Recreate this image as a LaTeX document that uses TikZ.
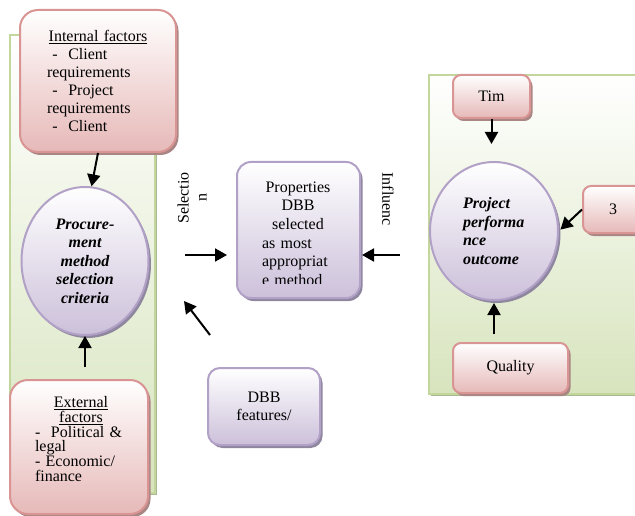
\documentclass[tikz,border=0pt]{standalone}
\usepackage{fontspec}
\setmainfont{Liberation Serif}
\usetikzlibrary{shapes.geometric,arrows.meta,shadows}
\definecolor{pinkb}{HTML}{D99594}
\definecolor{pinkf}{HTML}{E6B9B8}
\definecolor{pinks}{HTML}{A98584}
\definecolor{purpb}{HTML}{B2A1C7}
\definecolor{purpf}{HTML}{CCC0DA}
\definecolor{purps}{HTML}{8F86A0}
\definecolor{greenb}{HTML}{C3D69B}
\definecolor{greenf}{HTML}{D7E4BD}
\definecolor{greens}{HTML}{A9B893}
\begin{document}
\begin{tikzpicture}[x=1pt,y=-1pt,font=\fontsize{16}{18}\selectfont,
        link/.style={line width=2pt,-{Triangle[length=12pt,width=13pt]}},
        panel/.style={draw=greenb,line width=1.5pt,top color=white,bottom color=greenf,drop shadow={shadow xshift=2pt,shadow yshift=-2pt,fill=greens,opacity=1}},
        factbox/.style={rectangle,rounded corners=#1,draw=pinkb,line width=2pt,top color=white,bottom color=pinkf,inner sep=0pt,drop shadow={shadow xshift=2.5pt,shadow yshift=-3pt,fill=pinks,opacity=1}},
        factbox/.default=9pt,
        propbox/.style={rectangle,rounded corners=#1,draw=purpb,line width=2pt,top color=white,bottom color=purpf,inner sep=0pt,drop shadow={shadow xshift=2.5pt,shadow yshift=-3pt,fill=purps,opacity=1}},
        propbox/.default=12pt,
        critball/.style={ellipse,draw=purpb,line width=2pt,top color=white,bottom color=purpf,inner sep=0pt,drop shadow={shadow xshift=2.5pt,shadow yshift=-3pt,fill=purps,opacity=1},font=\fontsize{16}{18.5}\selectfont\bfseries\itshape}]
        \useasboundingbox (0,0) rectangle (635,516);
        % green panels
        \draw[panel] (10,35) rectangle (155,493);
        \draw[panel] (429,75) rectangle (660,394);
        % left side
        \node[factbox=18pt,minimum width=156pt,minimum height=142pt,text width=102pt,align=left] (intf) at (98,81) {\makebox[\hsize]{\underline{Internal factors}}\\\ -\ \ Client\\requirements\\\ -\ \ Project\\requirements\\\ -\ \ Client};
        \node[critball,minimum width=127pt,minimum height=148pt,align=center] (crit) at (85,261) {Procure-\\ment\\method\\selection\\criteria};
        \node[factbox=18pt,minimum width=138pt,minimum height=134pt] (extf) at (79,447) {};
        \node[text width=92pt,align=left,font=\fontsize{16}{14.8}\selectfont] (extt) at (81,439) {\makebox[\hsize]{\underline{External}}\\\makebox[\hsize]{\underline{factors}}\\-\ \ Political \&\\legal\\- Economic/\\finance};
        % middle
        \node[propbox=14pt,minimum width=123pt,minimum height=136pt] (dbbsel) at (298.5,230) {};
        \begin{scope}
            \clip ([yshift=16pt]dbbsel.south west) rectangle (dbbsel.north east);
            \node[text width=72pt,align=left,font=\fontsize{16}{18.6}\selectfont] (dbbt) at (298,233.5) {\makebox[\hsize]{Properties}\\\makebox[\hsize]{DBB}\\\makebox[\hsize]{selected}\\as most\\appropriat\\e method};
        \end{scope}
        \node[propbox=12pt,minimum width=112pt,minimum height=77pt,align=center] (dbbfeat) at (264,406.5) {DBB\\features/};
        \node[rotate=90,align=center] (sel) at (192,198) {Selectio\\n};
        \node[rotate=-90] (infl) at (388,199) {Influenc};
        % right side
        \node[factbox=8pt,minimum width=77pt,minimum height=43pt] (tim) at (491.5,96.5) {Tim};
        \node[factbox=8pt,minimum width=60pt,minimum height=47pt] (cost) at (613,209.5) {3};
        \node[critball,minimum width=128pt,minimum height=138pt,text width=62pt,align=left] (perf) at (494,231) {Project\\performa\\nce\\outcome};
        \node[factbox=8pt,minimum width=115pt,minimum height=50pt] (qual) at (510.5,368) {Quality};
        % arrows
        \coordinate (selin) at (185,255);
        \coordinate (inflin) at (400,255);
        \coordinate (featout) at (210,335);
        \coordinate (featin) at (184,301);
        \draw[link] (intf.south) -- (crit.85);
        \draw[link,shorten <=12pt] (crit.south |- extf.north) -- (crit.south);
        \draw[link,shorten >=9pt] (selin) -- (selin -| dbbsel.west);
        \draw[link,shorten >=1pt] (inflin) -- (inflin -| dbbsel.east);
        \draw[link] (featout) -- (featin);
        \draw[link,shorten >=17pt] (tim.south) -- (tim.south |- perf.north);
        \draw[link,shorten >=2pt] (cost.west) -- (perf.east);
        \draw[link,shorten <=8pt,shorten >=2pt] (perf.south |- qual.north) -- (perf.south);
    \end{tikzpicture}
\end{document}
